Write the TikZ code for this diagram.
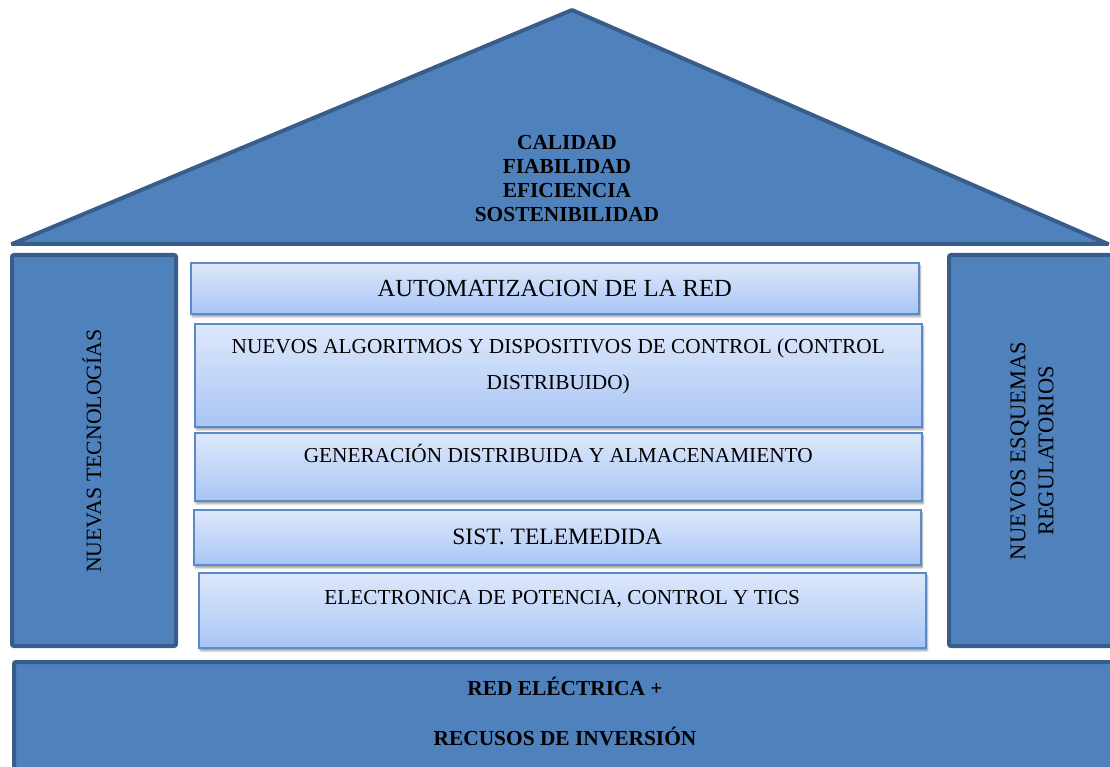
\documentclass[tikz,border=0pt]{standalone}
\usepackage{fontspec}
\setmainfont{Liberation Serif}
\usetikzlibrary{positioning}
\usetikzlibrary{shadows.blur}
\definecolor{roofblue}{HTML}{4F81BD}
\definecolor{edgeblue}{HTML}{385D8A}
\definecolor{layeredge}{HTML}{5A8AC8}
\definecolor{layertop}{HTML}{DEE8FB}
\definecolor{layerbot}{HTML}{A9C5F5}
\begin{document}
\begin{tikzpicture}[x=1pt,y=-1pt,
  block/.style = {draw=edgeblue,line width=4pt,fill=roofblue,rounded corners=2pt,
  inner sep=0pt},
  layer/.style = {draw=layeredge,line width=1.5pt,top color=layertop,bottom color=layerbot,
  blur shadow={shadow xshift=1.5pt,shadow yshift=-3pt},anchor=north west,inner sep=0pt},
  txt/.style = {inner sep=0pt,align=center,font=\fontsize{21.3}{36}\selectfont},
  bold/.style = {inner sep=0pt,align=center,font=\fontsize{21.4}{24}\selectfont\bfseries}]
 \useasboundingbox (0,0) rectangle (1110,767);
 \clip (0,0) rectangle (1110,767);
 % roof
 \draw[block,rounded corners=1pt] (12,244) coordinate (r1) -- (572,10) coordinate (r2)
  -- (1108,244) coordinate (r3) -- cycle;
 \node[bold] (goals) at (567,179) {CALIDAD\\FIABILIDAD\\EFICIENCIA\\SOSTENIBILIDAD};
 % pillars and base
 \node[block,minimum width=164pt,minimum height=391pt] (lp) at (94,450.5) {};
 \node[block,minimum width=176pt,minimum height=391pt] (rp) at (1037,450.5) {};
 \node[block,minimum width=1111pt,minimum height=128pt] (base) at (569.5,726) {};
 \node[txt,rotate=90,font=\fontsize{21.8}{28}\selectfont] (lpt) at (92,451) {NUEVAS TECNOLOGÍAS};
 \node[txt,rotate=90,font=\fontsize{22.5}{28}\selectfont] (rpt) at (1032,451)
  {NUEVOS ESQUEMAS\\REGULATORIOS};
 \node[bold] (bt1) at (565,686) {RED ELÉCTRICA +};
 \node[bold] (bt2) at (565,736) {RECUSOS DE INVERSIÓN};
 % layers
 \node[layer,minimum width=728pt,minimum height=51pt] (l1) at (190,262) {};
 \node[layer,minimum width=727pt,minimum height=103pt] (l2) at (194,323) {};
 \node[layer,minimum width=727pt,minimum height=68pt] (l3) at (194,432) {};
 \node[layer,minimum width=727pt,minimum height=55pt] (l4) at (193,509) {};
 \node[layer,minimum width=727pt,minimum height=75pt] (l5) at (198,572) {};
 \node[txt,font=\fontsize{24.6}{28}\selectfont] (t1) at (l1.center) {AUTOMATIZACION DE LA RED};
 \node[txt,below=16pt of l2.north] (t2)
  {NUEVOS ALGORITMOS Y DISPOSITIVOS DE CONTROL (CONTROL\\DISTRIBUIDO)};
 \node[txt,below=12pt of l3.north] (t3) {GENERACIÓN DISTRIBUIDA Y ALMACENAMIENTO};
 \node[txt,font=\fontsize{23.5}{28}\selectfont] (t4) at (l4.center) {SIST. TELEMEDIDA};
 \node[txt,below=18pt of l5.north] (t5) {ELECTRONICA DE POTENCIA, CONTROL Y TICS};
\end{tikzpicture}
\end{document}
